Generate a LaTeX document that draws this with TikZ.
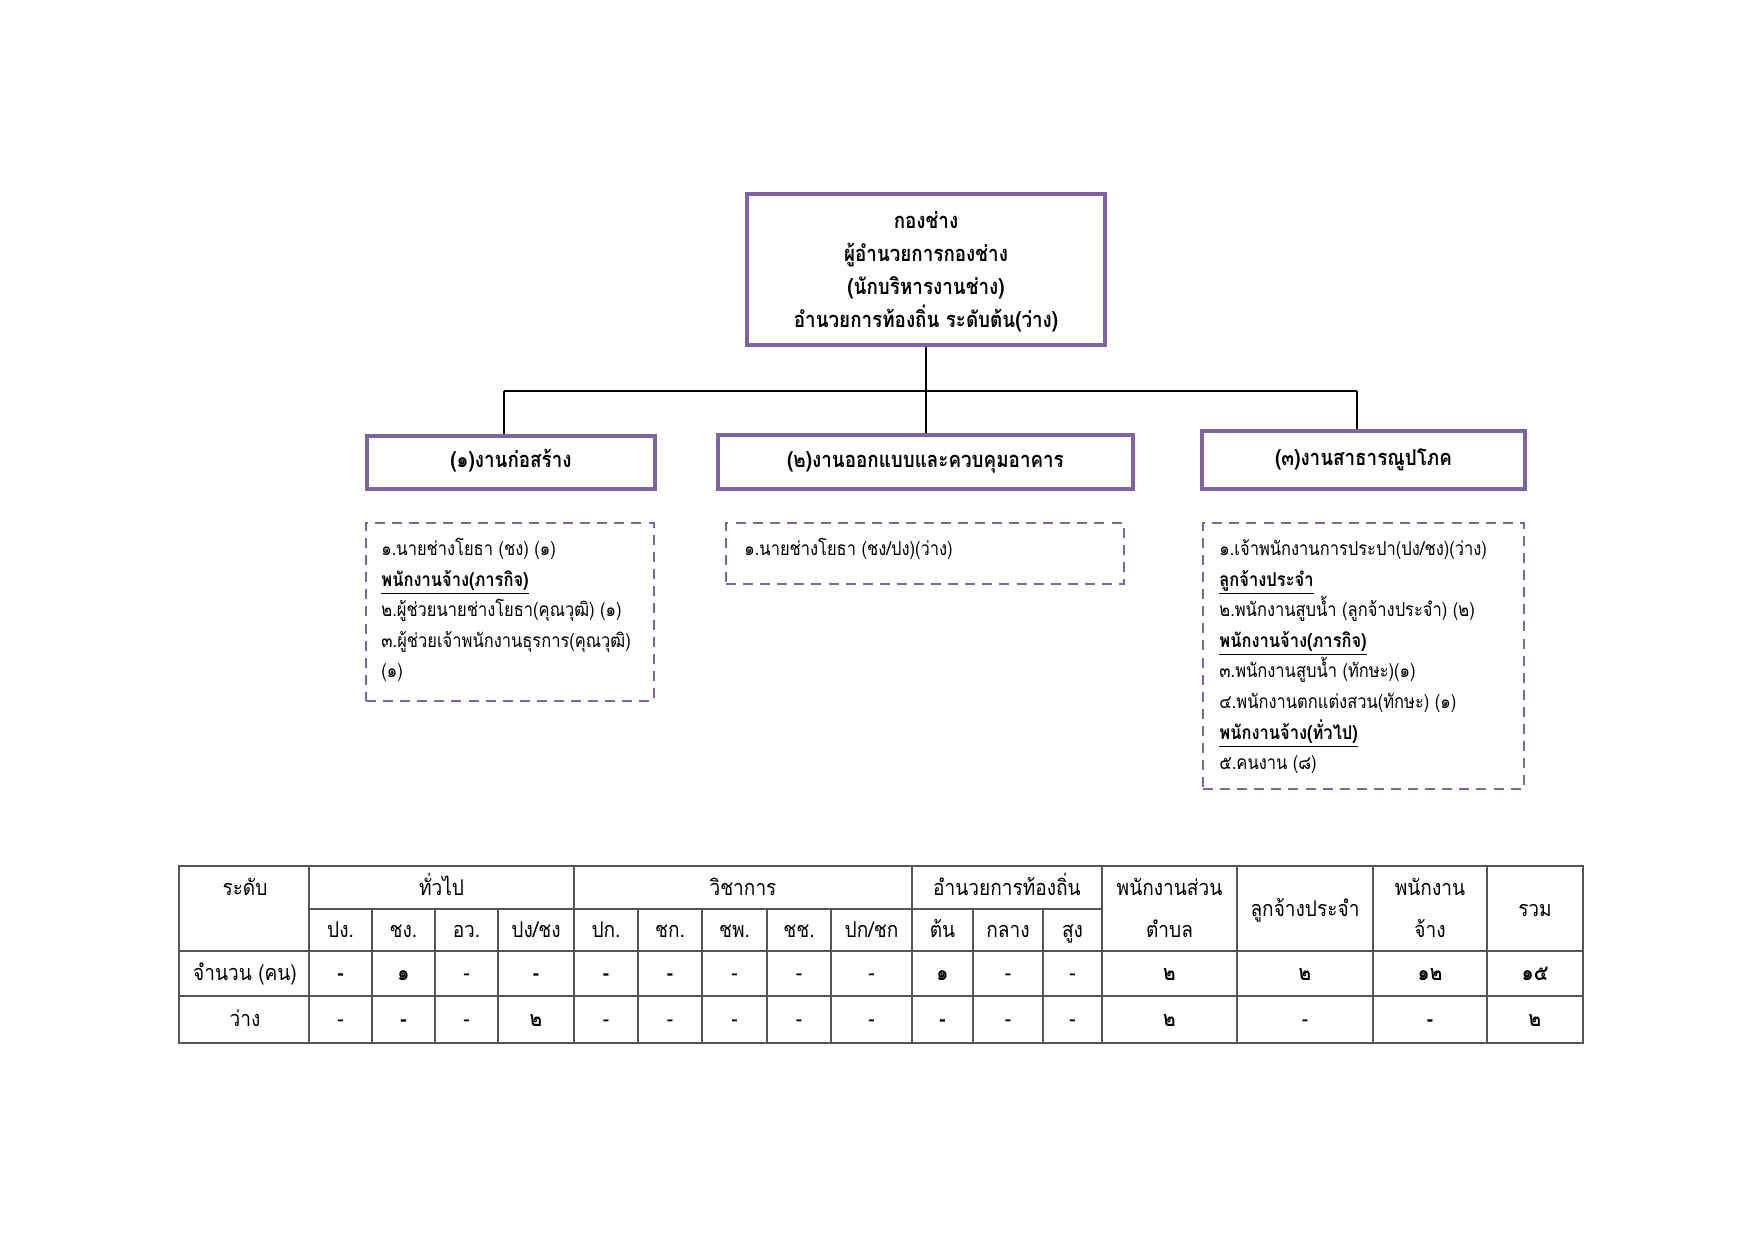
\documentclass[tikz,border=0pt]{standalone}
\usepackage{fontspec}
\setmainfont[Script=Thai,FakeStretch=0.86]{Loma}
\newfontfamily\tabfont[Script=Thai,FakeStretch=0.88]{Loma}
\usetikzlibrary{fit}
\definecolor{purp}{HTML}{8064A2}
\definecolor{tline}{HTML}{555555}
\begin{document}
\begin{tikzpicture}[x=0.4798pt,y=-0.4798pt,
  solidbox/.style={draw=purp, line width=2.3pt, inner sep=0pt, fill=white},
  dashbox/.style={draw=purp, line width=1pt, dash pattern=on 4.8pt off 3.4pt, inner sep=0pt},
  toptxt/.style={inner sep=0pt, align=center, font=\fontsize{10.5}{15.8}\selectfont\bfseries},
  ttl/.style={inner sep=0pt, anchor=mid, font=\fontsize{10.5}{12}\selectfont\bfseries},
  ln/.style={inner sep=0pt, anchor=mid west, font=\fontsize{9.2}{12}\selectfont},
  hl/.style={inner sep=0pt, anchor=mid west, font=\fontsize{9.2}{12}\selectfont\bfseries},
  tc/.style={inner sep=0pt, anchor=mid, font=\tabfont\fontsize{10.4}{12}\selectfont},
  conn/.style={draw=black, line width=0.6pt},
  grid/.style={draw=tline, line width=0.7pt}]
\useasboundingbox (0,0) rectangle (1755,1241);
\fill[white] (0,0) rectangle (1755,1241);

% boxes
\node[solidbox, fit={(747,194) (1105,345)}] (top) {};
\node[toptxt] (toptext) at (926,272) {กองช่าง\\ผู้อำนวยการกองช่าง\\(นักบริหารงานช่าง)\\อำนวยการท้องถิ่น ระดับต้น(ว่าง)};
\node[solidbox, fit={(367,436) (655,489)}] (b1) {};
\node[ttl] (b1t) at (b1.center) {(๑)งานก่อสร้าง};
\node[solidbox, fit={(718,435) (1133,489)}] (b2) {};
\node[ttl] (b2t) at (b2.center) {(๒)งานออกแบบและควบคุมอาคาร};
\node[solidbox, fit={(1202,431) (1525,489)}] (b3) {};
\node[ttl] (b3t) at (b3.center) {(๓)งานสาธารณูปโภค};

% connectors
\coordinate (jl) at (504,391);
\coordinate (jm) at (926,391);
\coordinate (jr) at (1357,391);
\draw[conn] (top.south) -- (jm);
\draw[conn] (jl) -- (jr);
\draw[conn] (jl) -- (jl |- b1.north);
\draw[conn] (jm) -- (jm |- b2.north);
\draw[conn] (jr) -- (jr |- b3.north);

% dashed boxes
\node[dashbox, fit={(366,523) (654,701)}] (d1) {};
\node[ln] (d1a) at (381,550) {๑.นายช่างโยธา (ชง) (๑)};
\node[hl] (d1b) at (381,580.6) {\underline{พนักงานจ้าง(ภารกิจ)}};
\node[ln] (d1c) at (381,611.2) {๒.ผู้ช่วยนายช่างโยธา(คุณวุฒิ) (๑)};
\node[ln] (d1d) at (381,641.8) {๓.ผู้ช่วยเจ้าพนักงานธุรการ(คุณวุฒิ)};
\node[ln] (d1e) at (381,672.4) {(๑)};

\node[dashbox, fit={(726,523) (1124,584)}] (d2) {};
\node[ln] (d2a) at (744,550) {๑.นายช่างโยธา (ชง/ปง)(ว่าง)};

\node[dashbox, fit={(1203,523) (1524,789)}] (d3) {};
\node[ln] (d3a) at (1219,550) {๑.เจ้าพนักงานการประปา(ปง/ชง)(ว่าง)};
\node[hl] (d3b) at (1219,580.6) {\underline{ลูกจ้างประจำ}};
\node[ln] (d3c) at (1219,611.2) {๒.พนักงานสูบน้ำ (ลูกจ้างประจำ) (๒)};
\node[hl] (d3d) at (1219,641.8) {\underline{พนักงานจ้าง(ภารกิจ)}};
\node[ln] (d3e) at (1219,672.4) {๓.พนักงานสูบน้ำ (ทักษะ)(๑)};
\node[ln] (d3f) at (1219,703) {๔.พนักงานตกแต่งสวน(ทักษะ) (๑)};
\node[hl] (d3g) at (1219,733.6) {\underline{พนักงานจ้าง(ทั่วไป)}};
\node[ln] (d3h) at (1219,764.2) {๕.คนงาน (๘)};

% table grid
\draw[grid] (179,866) rectangle (1583,1043);
\draw[grid] (309,909) -- (1102,909);
\draw[grid] (179,951) -- (1583,951);
\draw[grid] (179,996) -- (1583,996);
\foreach \x in {309,574,912,1102,1237,1373,1487} \draw[grid] (\x,866) -- (\x,1043);
\foreach \x in {372,435,498,638,702,767,831,973,1043} \draw[grid] (\x,909) -- (\x,1043);

% header texts
\node[tc] (h1) at (245,890) {ระดับ};
\node[tc] (h2) at (441.5,890) {ทั่วไป};
\node[tc] (h3) at (743,890) {วิชาการ};
\node[tc] (h4) at (1007,890) {อำนวยการท้องถิ่น};
\node[tc] (h5) at (1169.5,890) {พนักงานส่วน};
\node[tc] (h5b) at (1169.5,932) {ตำบล};
\node[tc] (h6) at (1305,911) {ลูกจ้างประจำ};
\node[tc] (h7) at (1430,890) {พนักงาน};
\node[tc] (h7b) at (1430,932) {จ้าง};
\node[tc] (h8) at (1535,911) {รวม};
\foreach \x/\t in {340.5/{ปง.}, 403.5/{ชง.}, 466.5/{อว.}, 536/{ปง/ชง}, 606/{ปก.}, 670/{ชก.}, 734.5/{ชพ.}, 799/{ชช.}, 871.5/{ปก/ชก}, 942.5/{ต้น}, 1008/{กลาง}, 1072.5/{สูง}}
  \node[tc] at (\x,932) {\t};

% data rows
\node[tc] (r1) at (245,975) {จำนวน (คน)};
\node[tc] (r2) at (245,1021) {ว่าง};
\foreach \x/\t in {340.5/{\textbf{-}}, 403.5/{\textbf{๑}}, 466.5/{-}, 536/{\textbf{-}}, 606/{\textbf{-}}, 670/{\textbf{-}}, 734.5/{-}, 799/{-}, 871.5/{-}, 942.5/{\textbf{๑}}, 1008/{-}, 1072.5/{-}, 1169.5/{\textbf{๒}}, 1305/{\textbf{๒}}, 1430/{\textbf{๑๒}}, 1535/{\textbf{๑๕}}}
  \node[tc] at (\x,975) {\t};
\foreach \x/\t in {340.5/{-}, 403.5/{\textbf{-}}, 466.5/{-}, 536/{\textbf{๒}}, 606/{-}, 670/{-}, 734.5/{-}, 799/{-}, 871.5/{-}, 942.5/{\textbf{-}}, 1008/{-}, 1072.5/{-}, 1169.5/{\textbf{๒}}, 1305/{-}, 1430/{\textbf{-}}, 1535/{\textbf{๒}}}
  \node[tc] at (\x,1021) {\t};
\end{tikzpicture}
\end{document}
